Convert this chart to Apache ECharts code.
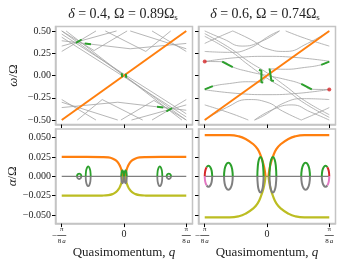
<!DOCTYPE html>
<html><head><meta charset="utf-8">
<script src="https://cdn.jsdelivr.net/npm/echarts@6/dist/echarts.min.js"></script>
<style>html,body{margin:0;padding:0;background:#fff}#c{width:346px;height:260px}</style>
</head><body><div id="c"></div>
<script>
const qTicks = [-1, 0, 1];
const wTicks = [-0.5, -0.25, 0, 0.25, 0.5];
const aTicks = [-0.05, -0.025, 0, 0.025, 0.05];
const titleLeft = '{i|δ} = 0.4, Ω = 0.89Ω{s|s}';
const titleRight = '{i|δ} = 0.6, Ω = 0.74Ω{s|s}';
const yNameTop = '{i|ω}/Ω';
const yNameBottom = '{i|α}/Ω';
const xName = 'Quasimomentum, {i|q}';

// ---- top-left: real part of bands (ω/Ω vs q in units of π/8a)
const grayTL = [
  [[-1, 0.5], [1, -0.5]],
  [[-1, 0.465], [0, 0.015], [1, -0.43]],
  [[-1, 0.43], [0, -0.015], [1, -0.465]],
  [[-0.93, 0.5], [0.93, -0.5]],
  [[-1, 0.27], [-0.45, 0.5]],
  [[-1, 0.5], [-0.48, 0.28], [0.05, 0.5]],
  [[-1, 0.33], [-0.12, 0.5]],
  [[-1, 0.39], [0.1, 0.3], [1, 0.36]],
  [[-0.3, 0.5], [0.35, 0.27], [0.75, 0.5]],
  [[0.1, 0.5], [1, 0.3]],
  [[0.45, 0.5], [1, 0.27]],
  [[1, -0.27], [0.45, -0.5]],
  [[1, -0.5], [0.48, -0.28], [-0.05, -0.5]],
  [[1, -0.33], [0.12, -0.5]],
  [[1, -0.39], [-0.1, -0.3], [-1, -0.36]],
  [[0.3, -0.5], [-0.35, -0.27], [-0.75, -0.5]],
  [[-0.1, -0.5], [-1, -0.3]],
  [[-0.45, -0.5], [-1, -0.27]]
];
const orangeTL = [[-1, -0.5], [1, 0.5]];
const greenTL = [
  [[-0.77, 0.366], [-0.68, 0.404]],
  [[-0.63, 0.360], [-0.53, 0.352]],
  [[-0.035, 0.025], [-0.03, -0.02]],
  [[0.03, 0.02], [0.035, -0.025]],
  [[0.53, -0.352], [0.63, -0.360]],
  [[0.68, -0.404], [0.77, -0.366]]
];

// ---- top-right
const grayTR = [
  [[-1, 0.47], [-0.6, 0.31], [-0.3, 0.16], [0, 0.03], [0.3, -0.12], [0.6, -0.28], [1, -0.44]],
  [[-1, 0.44], [-0.6, 0.28], [-0.3, 0.12], [0, -0.03], [0.3, -0.16], [0.6, -0.31], [1, -0.47]],
  [[-1, 0.157], [-0.72, 0.155], [-0.55, 0.095], [-0.3, 0.045], [0, 0], [0.3, -0.045], [0.55, -0.095], [0.72, -0.155], [1, -0.157]],
  [[-1, -0.155], [-0.87, -0.12], [-0.6, -0.09], [-0.3, -0.07], [-0.09, -0.075]],
  [[0.07, 0.075], [0.3, 0.07], [0.6, 0.09], [0.87, 0.12], [1, 0.155]],
  [[-0.09, -0.075], [0, -0.005], [0.07, 0.075]],
  [[-1, 0.157], [-0.5, 0.2], [0, 0.215], [0.5, 0.2], [1, 0.16]],
  [[-1, -0.16], [-0.5, -0.2], [0, -0.215], [0.5, -0.2], [1, -0.157]],
  [[-1, 0.36], [-0.75, 0.44], [-0.55, 0.5]],
  [[-1, 0.5], [-0.7, 0.41], [-0.4, 0.33], [-0.1, 0.38], [0.2, 0.5]],
  [[-0.55, 0.5], [-0.25, 0.4], [0, 0.3], [0.3, 0.27], [0.65, 0.36], [1, 0.5]],
  [[-1, 0.27], [-0.6, 0.26], [-0.3, 0.3], [0.05, 0.45], [0.2, 0.5]],
  [[0.3, 0.5], [0.6, 0.42], [1, 0.33]],
  [[1, -0.36], [0.75, -0.44], [0.55, -0.5]],
  [[1, -0.5], [0.7, -0.41], [0.4, -0.33], [0.1, -0.38], [-0.2, -0.5]],
  [[0.55, -0.5], [0.25, -0.4], [0, -0.3], [-0.3, -0.27], [-0.65, -0.36], [-1, -0.5]],
  [[1, -0.27], [0.6, -0.26], [0.3, -0.3], [-0.05, -0.45], [-0.2, -0.5]],
  [[-0.3, -0.5], [-0.6, -0.42], [-1, -0.33]]
];
const orangeTR = [[-1, -0.5], [1, 0.5]];
const greenTR = [
  [[-0.72, 0.155], [-0.55, 0.095]],
  [[-1, -0.155], [-0.87, -0.12]],
  [[-0.13, 0.062], [-0.09, 0.056], [-0.09, -0.075], [-0.06, -0.08]],
  [[0.04, 0.08], [0.07, 0.075], [0.07, -0.056], [0.11, -0.062]],
  [[0.55, -0.095], [0.72, -0.155]],
  [[0.87, 0.12], [1, 0.155]]
];
const redTR = [[-1, 0.157], [1, -0.157]];

// ---- bottom-left: imaginary part (α/Ω)
const zeroLine = [[-1, 0], [1, 0]];
const orangeBL1 = [[-1, 0.025], [-0.6, 0.025], [-0.35, 0.0248], [-0.25, 0.0243], [-0.18, 0.0228], [-0.13, 0.0205], [-0.09, 0.017], [-0.06, 0.0125], [-0.04, 0.008], [-0.027, 0.003], [-0.02, 0]];
const orangeBL2 = [[0.02, 0], [0.027, 0.003], [0.04, 0.008], [0.06, 0.0125], [0.09, 0.017], [0.13, 0.0205], [0.18, 0.0228], [0.25, 0.0243], [0.35, 0.0248], [0.6, 0.025], [1, 0.025]];
const yellowBL1 = [[-1, -0.025], [-0.6, -0.025], [-0.35, -0.0248], [-0.25, -0.0243], [-0.18, -0.0228], [-0.13, -0.0205], [-0.09, -0.017], [-0.06, -0.0125], [-0.04, -0.008], [-0.027, -0.003], [-0.02, 0]];
const yellowBL2 = [[0.02, 0], [0.027, -0.003], [0.04, -0.008], [0.06, -0.0125], [0.09, -0.017], [0.13, -0.0205], [0.18, -0.0228], [0.25, -0.0243], [0.35, -0.0248], [0.6, -0.025], [1, -0.025]];
const greenBL = [
  [[-0.755, 0], [-0.75, 0.00175], [-0.7375, 0.003], [-0.72, 0.0035], [-0.7025, 0.003], [-0.69, 0.00175], [-0.685, 0]],
  [[-0.615, 0], [-0.61, 0.0064], [-0.595, 0.011], [-0.575, 0.0127], [-0.555, 0.011], [-0.54, 0.0064], [-0.535, 0]],
  [[-0.045, 0], [-0.042, 0.0038], [-0.035, 0.0065], [-0.025, 0.0075], [-0.015, 0.0065], [-0.008, 0.0038], [-0.005, 0]],
  [[0.005, 0], [0.008, 0.0038], [0.015, 0.0065], [0.025, 0.0075], [0.035, 0.0065], [0.042, 0.0038], [0.045, 0]],
  [[0.535, 0], [0.54, 0.0064], [0.555, 0.011], [0.575, 0.0127], [0.595, 0.011], [0.61, 0.0064], [0.615, 0]],
  [[0.685, 0], [0.69, 0.00175], [0.7025, 0.003], [0.72, 0.0035], [0.7375, 0.003], [0.75, 0.00175], [0.755, 0]]
];
const grayBL = [
  [[-0.755, 0], [-0.75, -0.00175], [-0.7375, -0.003], [-0.72, -0.0035], [-0.7025, -0.003], [-0.69, -0.00175], [-0.685, 0]],
  [[-0.615, 0], [-0.61, -0.0064], [-0.595, -0.011], [-0.575, -0.0127], [-0.555, -0.011], [-0.54, -0.0064], [-0.535, 0]],
  [[-0.045, 0], [-0.042, -0.0045], [-0.035, -0.0078], [-0.025, -0.009], [-0.015, -0.0078], [-0.008, -0.0045], [-0.005, 0]],
  [[0.005, 0], [0.008, -0.0045], [0.015, -0.0078], [0.025, -0.009], [0.035, -0.0078], [0.042, -0.0045], [0.045, 0]],
  [[0.535, 0], [0.54, -0.0064], [0.555, -0.011], [0.575, -0.0127], [0.595, -0.011], [0.61, -0.0064], [0.615, 0]],
  [[0.685, 0], [0.69, -0.00175], [0.7025, -0.003], [0.72, -0.0035], [0.7375, -0.003], [0.75, -0.00175], [0.755, 0]]
];

// ---- bottom-right
const orangeBR1 = [[-1, 0.053], [-0.6, 0.053], [-0.45, 0.0515], [-0.34, 0.048], [-0.23, 0.042], [-0.15, 0.035], [-0.094, 0.025], [-0.055, 0.015], [-0.035, 0.007], [-0.025, 0]];
const orangeBR2 = [[0.025, 0], [0.035, 0.007], [0.055, 0.015], [0.094, 0.025], [0.15, 0.035], [0.23, 0.042], [0.34, 0.048], [0.45, 0.0515], [0.6, 0.053], [1, 0.053]];
const yellowBR1 = [[-1, -0.053], [-0.6, -0.053], [-0.45, -0.0515], [-0.34, -0.048], [-0.23, -0.042], [-0.15, -0.035], [-0.094, -0.025], [-0.055, -0.015], [-0.035, -0.007], [-0.025, 0]];
const yellowBR2 = [[0.025, 0], [0.035, -0.007], [0.055, -0.015], [0.094, -0.025], [0.15, -0.035], [0.23, -0.042], [0.34, -0.048], [0.45, -0.0515], [0.6, -0.053], [1, -0.053]];
const greenBR = [
  [[-0.97, 0.0117], [-0.94, 0.0135], [-0.91, 0.0117], [-0.888, 0.0068], [-0.88, 0]],
  [[-0.69, 0], [-0.681, 0.0088], [-0.655, 0.0152], [-0.62, 0.0175], [-0.585, 0.0152], [-0.559, 0.0088], [-0.55, 0]],
  [[-0.155, 0], [-0.148, 0.0125], [-0.13, 0.0217], [-0.105, 0.025], [-0.08, 0.0217], [-0.062, 0.0125], [-0.055, 0]],
  [[0.04, 0], [0.048, 0.0125], [0.0675, 0.0217], [0.095, 0.025], [0.1225, 0.0217], [0.1426, 0.0125], [0.15, 0]],
  [[0.55, 0], [0.559, 0.0088], [0.585, 0.0152], [0.62, 0.0175], [0.655, 0.0152], [0.681, 0.0088], [0.69, 0]],
  [[0.88, 0], [0.888, 0.0068], [0.91, 0.0117], [0.94, 0.0135], [0.97, 0.0117]]
];
const grayBR = [
  [[-0.97, -0.0117], [-0.94, -0.0135], [-0.91, -0.0117], [-0.888, -0.0068], [-0.88, 0]],
  [[-0.69, 0], [-0.681, -0.0088], [-0.655, -0.0152], [-0.62, -0.0175], [-0.585, -0.0152], [-0.559, -0.0088], [-0.55, 0]],
  [[-0.155, 0], [-0.148, -0.0105], [-0.13, -0.0182], [-0.105, -0.021], [-0.08, -0.0182], [-0.062, -0.0105], [-0.055, 0]],
  [[0.04, 0], [0.048, -0.0105], [0.0675, -0.0182], [0.095, -0.021], [0.1225, -0.0182], [0.1426, -0.0105], [0.15, 0]],
  [[0.55, 0], [0.559, -0.0088], [0.585, -0.0152], [0.62, -0.0175], [0.655, -0.0152], [0.681, -0.0088], [0.69, 0]],
  [[0.88, 0], [0.888, -0.0068], [0.91, -0.0117], [0.94, -0.0135], [0.97, -0.0117]]
];
const redBR = [
  [[-1.0, 0], [-0.992, 0.0068], [-0.97, 0.0117]],
  [[0.97, 0.0117], [0.992, 0.0068], [1.0, 0]]
];
const pinkBR = [
  [[-1.0, 0], [-0.992, -0.0068], [-0.97, -0.0117]],
  [[0.97, -0.0117], [0.992, -0.0068], [1.0, 0]]
];

const C = {gray: '#a3a3a3', dgray: '#7f7f7f', orange: '#ff7f0e', green: '#2ca02c', red: '#d62728', pink: '#e377c2', olive: '#bcbd22'};
const FONT = 'Liberation Serif';
const FRAME = '#c4c4c4';

const chart = echarts.init(document.getElementById('c'), null, {renderer: 'canvas'});
const grids = [
  {left: 55.5, top: 26.5, width: 137, height: 98},
  {left: 198.5, top: 26.5, width: 137, height: 98},
  {left: 55.5, top: 129, width: 137, height: 101},
  {left: 198.5, top: 129, width: 137, height: 101}
].map(g => Object.assign(g, {show: true, borderColor: FRAME, borderWidth: 1.5, backgroundColor: 'transparent'}));

function qFmt(v) {
  if (Math.abs(v) < 1e-9) return '{z|0}';
  const a = '{s| }{n|π}{s| }';
  const b = (v < 0 ? '{mm|−}' : '{s| }') + '{b| }{s| }';
  const c = '{s| }{d8|8}{da|a}{s| }';
  return a + '\n' + b + '\n' + c;
}
const qRich = {
  z: {fontSize: 10, fontFamily: FONT, color: '#222', padding: [3, 0, 0, 0]},
  s: {width: 6, fontSize: 6, lineHeight: 6},
  n: {width: 9, align: 'center', fontSize: 7, lineHeight: 6, fontFamily: FONT, color: '#222'},
  b: {width: 9, height: 0.7, fontSize: 1, lineHeight: 3, backgroundColor: '#222'},
  mm: {width: 6, align: 'right', fontSize: 9, lineHeight: 3, fontFamily: FONT, color: '#222'},
  d8: {width: 4.5, align: 'right', fontSize: 7, lineHeight: 6, fontFamily: FONT, color: '#222'},
  da: {width: 4.5, align: 'left', fontSize: 7, lineHeight: 6, fontFamily: FONT, fontStyle: 'italic', color: '#222'}
};

function xAxis(gi, labels) {
  return {
    type: 'value', gridIndex: gi, min: -1.1, max: 1.1, position: 'bottom', z: 10,
    splitLine: {show: false}, axisLine: {show: true, onZero: false, lineStyle: {color: FRAME, width: 1.5}},
    axisTick: {show: true, customValues: qTicks, length: 3.5, inside: false, lineStyle: {color: '#000', width: 1}},
    axisLabel: {show: labels, customValues: qTicks, formatter: qFmt, rich: qRich, margin: 3},
    name: labels ? xName : '', nameLocation: 'middle', nameGap: 14,
    nameTextStyle: {fontFamily: FONT, fontSize: 13, color: '#222', verticalAlign: 'top', rich: {i: {fontStyle: 'italic', fontFamily: FONT, fontSize: 13, color: '#222'}}}
  };
}
function yAxis(gi, top, labels) {
  const ticks = top ? wTicks : aTicks;
  return {
    type: 'value', gridIndex: gi, position: 'left', z: 10,
    min: top ? -0.55 : -0.061, max: top ? 0.55 : 0.061,
    splitLine: {show: false}, axisLine: {show: true, onZero: false, lineStyle: {color: FRAME, width: 1.5}},
    axisTick: {show: true, customValues: ticks, length: 3.5, inside: false, lineStyle: {color: '#000', width: 1}},
    axisLabel: {show: labels, customValues: ticks, margin: 4.5, fontFamily: FONT, fontSize: 10, color: '#222',
      formatter: v => (v < 0 ? '−' : '') + Math.abs(v).toFixed(top ? 2 : 3)},
    name: labels ? (top ? yNameTop : yNameBottom) : '', nameLocation: 'middle', nameRotate: 90, nameGap: 35,
    nameTextStyle: {fontFamily: FONT, fontSize: 13, color: '#222', rich: {i: {fontStyle: 'italic', fontFamily: FONT, fontSize: 13, color: '#222'}}}
  };
}

const series = [];
function add(data, color, width, gi, z, smooth) {
  series.push({type: 'line', data: data, xAxisIndex: gi, yAxisIndex: gi, showSymbol: false, symbol: 'none',
    smooth: smooth ? 0.5 : false, lineStyle: {color: color, width: width}, z: z, silent: true, animation: false, clip: true});
}
grayTL.forEach(d => add(d, C.gray, 0.8, 0, 2));
add(orangeTL, C.orange, 2, 0, 4);
greenTL.forEach(d => add(d, C.green, 2, 0, 5));
grayTR.forEach(d => add(d, C.gray, 0.8, 1, 2, true));
add(orangeTR, C.orange, 2, 1, 4);
greenTR.forEach(d => add(d, C.green, 2, 1, 5));

add(zeroLine, C.dgray, 1.2, 2, 2);
[orangeBL1, orangeBL2].forEach(d => add(d, C.orange, 2.2, 2, 4, true));
[yellowBL1, yellowBL2].forEach(d => add(d, C.olive, 2.2, 2, 4, true));
grayBL.forEach(d => add(d, C.dgray, 1.8, 2, 5, true));
greenBL.forEach(d => add(d, C.green, 1.8, 2, 6, true));

add(zeroLine, C.dgray, 1.2, 3, 2);
[orangeBR1, orangeBR2].forEach(d => add(d, C.orange, 2.2, 3, 4, true));
[yellowBR1, yellowBR2].forEach(d => add(d, C.olive, 2.2, 3, 4, true));
grayBR.forEach(d => add(d, C.dgray, 2, 3, 5, true));
greenBR.forEach(d => add(d, C.green, 2, 3, 6, true));
redBR.forEach(d => add(d, C.red, 2, 3, 6, true));
pinkBR.forEach(d => add(d, C.pink, 2, 3, 6, true));

series.push({type: 'scatter', xAxisIndex: 1, yAxisIndex: 1, data: redTR, symbolSize: 4, itemStyle: {color: C.red}, z: 6, silent: true, animation: false});

const titleRich = {i: {fontStyle: 'italic', fontFamily: FONT, fontSize: 14, color: '#222'}, s: {fontSize: 9, fontFamily: FONT, color: '#222', padding: [7, 0, 0, 0]}};
chart.setOption({
  animation: false,
  title: [
    {text: titleLeft, left: 118, top: 1, textAlign: 'center', textStyle: {fontFamily: FONT, fontSize: 14, fontWeight: 'normal', color: '#222', rich: titleRich}},
    {text: titleRight, left: 260, top: 1, textAlign: 'center', textStyle: {fontFamily: FONT, fontSize: 14, fontWeight: 'normal', color: '#222', rich: titleRich}}
  ],
  grid: grids,
  xAxis: [xAxis(0, false), xAxis(1, false), xAxis(2, true), xAxis(3, true)],
  yAxis: [yAxis(0, true, true), yAxis(1, true, false), yAxis(2, false, true), yAxis(3, false, false)],
  series: series
});
</script></body></html>
